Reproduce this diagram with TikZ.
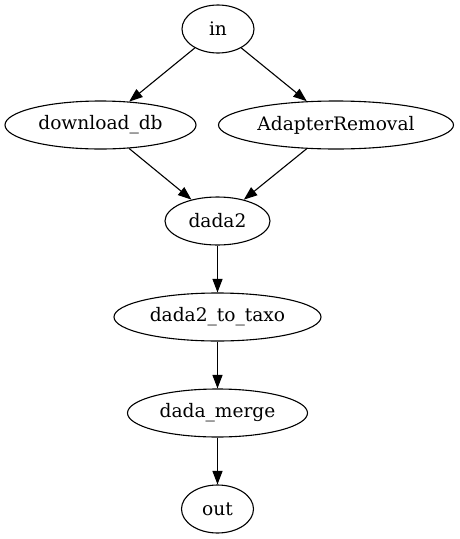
\documentclass[tikz,border=0pt]{standalone}
\usepackage{fontspec}
\setmainfont{DejaVu Serif}
\usetikzlibrary{shapes.geometric,arrows.meta}
\begin{document}
\begin{tikzpicture}[x=1pt,y=-1pt,
  nodebox/.style={draw,ellipse,line width=1.1pt,inner sep=0pt,minimum height=48pt,
    font=\fontsize{18.6}{22}\selectfont},
  edge/.style={line width=1.1pt,-{Triangle[length=13.5pt,width=10pt]}}]
\useasboundingbox (0,0) rectangle (459,539);
\node[nodebox,minimum width=72pt] (in) at (218,29) {in};
\node[nodebox,minimum width=191pt] (db) at (100.5,125) {download\_db};
\node[nodebox,minimum width=235pt] (ar) at (336,125) {AdapterRemoval};
\node[nodebox,minimum width=105pt] (d2) at (217.5,221) {dada2};
\node[nodebox,minimum width=207pt] (tx) at (217.5,317) {dada2\_to\_taxo};
\node[nodebox,minimum width=180pt] (dm) at (217.5,413) {dada\_merge};
\node[nodebox,minimum width=72pt] (out) at (217.5,509) {out};
\draw[edge] (in) -- (db);
\draw[edge] (in) -- (ar);
\draw[edge] (db) -- (d2);
\draw[edge] (ar) -- (d2);
\draw[edge] (d2) -- (tx);
\draw[edge] (tx) -- (dm);
\draw[edge] (dm) -- (out);
\end{tikzpicture}
\end{document}
